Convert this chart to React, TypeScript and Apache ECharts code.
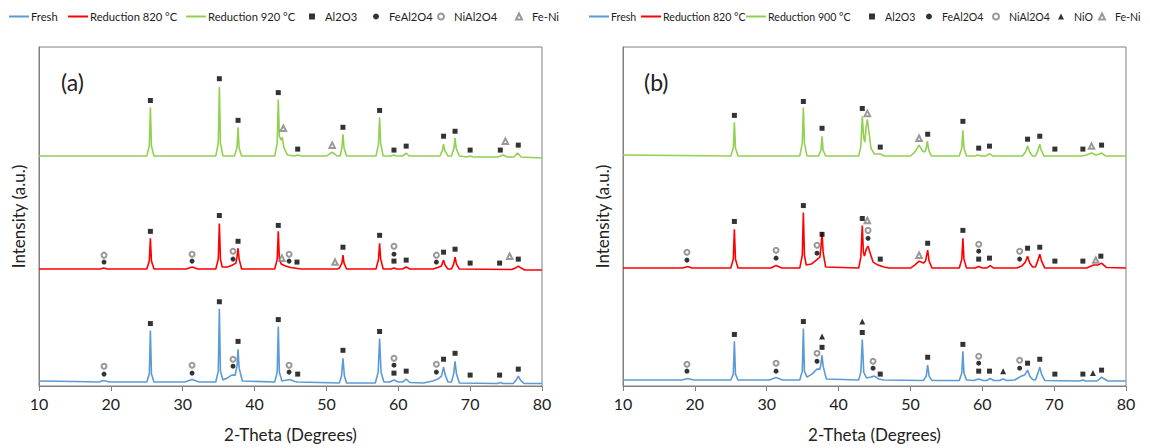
import React, { useEffect, useRef } from "react";
import * as echarts from "echarts";

const FONT = "Lato, 'Liberation Sans', sans-serif";
const AXIS_GREY = "#808080";
const TEXT_COLOR = "#222222";
const BLUE = "#5b9bd5";
const RED = "#ff0000";
const GREEN = "#92d050";

// ---- Panel (a): diffraction patterns, [2θ, intensity (a.u., stacked)] ----
const freshA = [
  [10, 5], [15, 4.5], [18.3, 4], [19.0, 5.5], [19.8, 4],
  [25.0, 4], [25.35, 12], [25.5, 56], [25.65, 12], [26.0, 4],
  [30.3, 4], [31.3, 6.5], [32.3, 4],
  [34.6, 4], [34.95, 15], [35.1, 78], [35.25, 15], [35.6, 6], [36.2, 8], [36.8, 11], [37.3, 11], [37.55, 20], [37.7, 37], [37.85, 18], [38.3, 5],
  [42.8, 4], [43.15, 14], [43.3, 60], [43.45, 14], [43.8, 5], [44.9, 6.5], [45.6, 4.5], [46.0, 4],
  [51.8, 3], [52.1, 10], [52.3, 28], [52.5, 10], [52.8, 3],
  [56.8, 3], [57.2, 14], [57.4, 48], [57.6, 14], [58.0, 4], [58.8, 4], [59.4, 6], [60.0, 4], [60.6, 4], [61.1, 7], [61.6, 3.5],
  [63.5, 3], [64.8, 5], [65.5, 7], [66.0, 10], [66.15, 14], [66.3, 19], [66.5, 12], [66.9, 4],
  [67.4, 4], [67.7, 12], [67.9, 25], [68.1, 12], [68.5, 3],
  [73.8, 2.5], [74.2, 3.5], [74.6, 2.5],
  [76.0, 2.5], [76.4, 6], [76.7, 10], [77.0, 6], [77.5, 2.5], [80, 2.5],
];

const red820A = [
  [10, 118], [18.5, 118], [19.0, 119], [19.5, 118],
  [25.0, 118], [25.35, 126], [25.5, 149], [25.65, 126], [26.0, 118],
  [30.5, 118], [31.3, 120], [32.1, 118],
  [34.6, 118], [34.95, 128], [35.1, 164], [35.25, 128], [35.5, 120], [36.2, 120], [36.8, 121.5], [37.4, 124], [37.55, 130], [37.7, 139], [37.85, 128], [38.2, 118],
  [42.8, 118], [43.15, 128], [43.3, 156], [43.45, 128], [43.7, 123], [44.3, 121], [45.0, 119.5], [46.0, 118.5], [46.5, 118],
  [51.5, 118], [51.8, 119], [52.15, 124], [52.3, 132], [52.45, 124], [52.8, 118],
  [56.9, 118], [57.25, 128], [57.4, 144], [57.55, 128], [57.9, 118],
  [59.0, 118], [59.4, 119], [59.8, 118],
  [60.6, 118], [61.1, 120], [61.6, 118],
  [64.8, 118], [65.5, 119.5], [66.0, 121], [66.15, 124], [66.3, 127], [66.5, 122], [66.9, 118],
  [67.4, 118], [67.7, 123], [67.9, 130], [68.1, 123], [68.5, 118],
  [75.8, 117.5], [76.3, 119], [76.7, 121], [77.1, 119], [77.6, 117], [80, 117],
];

const green920A = [
  [10, 232], [25.0, 232], [25.35, 242], [25.5, 281], [25.65, 242], [26.0, 232],
  [34.6, 232], [34.95, 245], [35.1, 302], [35.25, 245], [35.6, 232],
  [37.2, 232], [37.55, 240], [37.7, 261], [37.85, 240], [38.2, 232],
  [42.8, 232], [43.15, 245], [43.3, 289], [43.45, 252], [43.7, 248], [43.85, 251], [44.1, 240], [44.6, 233],
  [45.5, 232], [46.0, 233], [46.5, 232],
  [50.0, 232], [50.8, 236], [51.5, 232],
  [51.9, 232], [52.15, 240], [52.3, 254], [52.45, 240], [52.8, 232],
  [56.9, 232], [57.25, 244], [57.4, 271], [57.55, 244], [57.9, 232],
  [59.0, 232], [59.4, 233], [59.8, 232],
  [60.6, 232], [61.1, 235], [61.5, 232],
  [65.8, 232], [66.15, 238], [66.3, 244], [66.45, 238], [66.9, 232],
  [67.4, 232], [67.75, 240], [67.9, 250], [68.05, 240], [68.5, 232],
  [69.6, 231], [70.0, 232], [70.4, 231],
  [73.8, 231], [74.6, 233], [75.2, 231],
  [76.1, 231], [76.6, 235], [77.1, 231], [80, 230],
];

// Phase markers, panel (a)
const al2o3A = [
  [25.5, 288], [35.1, 310], [37.7, 268], [43.3, 296], [46.0, 239], [52.3, 261], [57.4, 278],
  [59.4, 238], [61.1, 242], [66.3, 252], [67.9, 257], [70.0, 238], [74.2, 238], [76.7, 243],
  [25.5, 156], [35.1, 172], [37.7, 146], [43.3, 162], [45.9, 125], [52.3, 140], [57.4, 152],
  [59.4, 126], [61.1, 127], [66.3, 135], [67.9, 138], [70.0, 124], [74.1, 124], [76.7, 128],
  [25.5, 63], [35.1, 85], [37.7, 45], [43.3, 67], [46.0, 12], [52.3, 36], [57.4, 55],
  [59.4, 13], [61.1, 15], [66.3, 27], [67.9, 33], [70.0, 11], [74.1, 11], [76.7, 17],
];
const feAl2o4A = [
  [19.05, 125], [31.3, 126], [37.0, 128], [44.8, 126], [59.4, 133], [65.3, 125],
  [19.05, 12], [31.3, 13], [37.0, 20], [44.8, 14], [59.4, 21], [65.3, 14],
];
const niAl2o4A = [
  [19.05, 132], [31.3, 133], [37.0, 136], [44.8, 133], [59.4, 141], [65.3, 132],
  [19.05, 20], [31.3, 21], [37.0, 27], [44.8, 21], [59.4, 28], [65.3, 22],
];
const feNiA = [
  [44.0, 260], [50.8, 243], [74.9, 247],
  [43.8, 129], [51.2, 125], [75.5, 131],
];

// ---- Panel (b) ----
const freshB = [
  [10, 6], [18.2, 6], [19.0, 7.5], [19.8, 6],
  [25.0, 6], [25.35, 12], [25.5, 45], [25.65, 12], [26.0, 6],
  [30.4, 6], [31.3, 8.5], [32.2, 6],
  [34.6, 6], [34.95, 15], [35.1, 58], [35.25, 15], [35.6, 9], [36.3, 12], [37.0, 17], [37.4, 17], [37.55, 22], [37.7, 31], [37.85, 20], [38.3, 7],
  [42.8, 6], [43.1, 14], [43.3, 47], [43.5, 14], [43.9, 8], [44.5, 9], [45.0, 10], [45.6, 7], [46.3, 6],
  [51.8, 5.5], [52.2, 10], [52.4, 21], [52.6, 10], [53.0, 5.5],
  [56.8, 5.5], [57.15, 13], [57.3, 35], [57.45, 13], [57.8, 6],
  [58.8, 5.5], [59.5, 7], [60.1, 5.5], [60.6, 5.5], [61.1, 7.5], [61.6, 5.5],
  [62.4, 5.5], [62.9, 7], [63.4, 5.5],
  [64.5, 6], [65.3, 9.5], [65.9, 11], [66.3, 16], [66.6, 10], [67.0, 6.5],
  [67.4, 6], [67.75, 13], [68.0, 19], [68.25, 12], [68.7, 5.5],
  [73.6, 5], [74.0, 6], [74.4, 5],
  [75.9, 5], [76.3, 7], [76.6, 9], [77.0, 7], [77.5, 5], [80, 5],
];

const red820B = [
  [10, 119], [18.3, 119], [19.0, 120.5], [19.6, 119],
  [25.0, 119], [25.35, 128], [25.5, 158], [25.65, 128], [26.0, 119],
  [30.6, 119], [31.3, 121.5], [32.1, 119],
  [34.6, 119], [34.95, 132], [35.1, 175], [35.25, 132], [35.5, 122], [36.2, 123], [36.9, 127], [37.4, 130], [37.55, 140], [37.7, 155], [37.85, 135], [38.2, 120],
  [42.8, 119], [43.1, 130], [43.3, 162], [43.45, 135], [43.6, 131], [43.85, 138], [44.1, 141], [44.4, 134], [44.8, 125], [45.5, 122], [46.3, 120], [47.0, 119],
  [50.0, 119], [50.6, 122], [51.2, 126], [51.8, 124], [52.1, 126], [52.4, 137], [52.6, 126], [53.0, 119],
  [56.8, 119], [57.15, 128], [57.3, 149], [57.45, 128], [57.8, 119],
  [59.0, 119], [59.5, 120.5], [60.0, 119],
  [60.6, 119], [61.1, 121.5], [61.6, 119],
  [64.8, 119], [65.5, 121], [66.0, 125], [66.3, 131], [66.6, 124], [67.0, 120],
  [67.4, 120], [67.75, 127], [68.0, 133], [68.25, 126], [68.7, 119],
  [74.5, 119], [75.5, 122], [76.1, 122], [76.6, 124], [77.3, 119.5], [80, 119],
];

const green900B = [
  [10, 233], [25.0, 232], [25.35, 240], [25.5, 266], [25.65, 240], [26.0, 232],
  [34.6, 232], [34.95, 245], [35.1, 281], [35.25, 245], [35.6, 232],
  [37.2, 232], [37.55, 238], [37.7, 252], [37.85, 238], [38.2, 232],
  [42.8, 232], [43.1, 242], [43.3, 272], [43.5, 250], [43.65, 246], [43.85, 262], [44.0, 269], [44.2, 258], [44.5, 240], [45.0, 234], [45.8, 234], [46.4, 232],
  [50.0, 232], [50.6, 236], [51.2, 243], [51.7, 237], [52.0, 236], [52.2, 240], [52.35, 247], [52.55, 238], [52.9, 232],
  [56.8, 232], [57.15, 240], [57.3, 258], [57.45, 240], [57.8, 232],
  [59.0, 232], [59.4, 233], [59.8, 232],
  [60.5, 232], [61.0, 234.5], [61.5, 232],
  [65.6, 232], [66.0, 236], [66.3, 242], [66.6, 236], [67.0, 232],
  [67.4, 232], [67.75, 238], [68.0, 244], [68.2, 238], [68.6, 232],
  [73.8, 232], [74.5, 233], [75.2, 235], [75.8, 233], [76.3, 234], [76.6, 235], [77.2, 232], [80, 232],
];

// Phase markers, panel (b)
const al2o3B = [
  [25.5, 273], [35.1, 287], [37.7, 260], [43.3, 280], [45.8, 241], [52.4, 254], [57.3, 267],
  [59.5, 240], [61.0, 242], [66.3, 249], [68.0, 252], [70.1, 239], [74.0, 239], [76.6, 243],
  [25.5, 166], [35.1, 182], [37.7, 153], [43.3, 169], [45.8, 128], [52.4, 144], [57.3, 157],
  [59.5, 128], [61.0, 129], [66.3, 139], [68.0, 140], [70.1, 126], [74.0, 126], [76.5, 131],
  [25.5, 52], [35.1, 65], [37.7, 39], [43.3, 54], [45.8, 12], [52.4, 29], [57.3, 42],
  [59.5, 15], [61.0, 15], [66.3, 23], [68.0, 27], [70.1, 12], [74.0, 12], [76.6, 16],
];
const feAl2o4B = [
  [18.9, 127], [31.3, 129], [37.0, 134], [44.1, 149], [59.5, 136], [65.2, 128],
  [18.9, 15], [31.3, 15], [37.0, 25], [44.8, 18], [59.5, 23], [65.2, 18],
];
const niAl2o4B = [
  [18.9, 135], [31.3, 137], [37.0, 142], [44.1, 157], [59.5, 143], [65.2, 136],
  [18.9, 22], [31.3, 23], [37.0, 33], [44.8, 25], [59.5, 30], [65.2, 26],
];
const niOB = [[37.7, 50], [43.3, 65], [62.9, 15], [75.4, 13]];
const feNiB = [
  [44.0, 275], [51.2, 250], [75.2, 242],
  [44.0, 167], [51.2, 132], [75.8, 127],
];

const X_MIN = 10;
const X_MAX = 80;
const X_STEP = 10;
const Y_MAX = 342;

// Marker appearance for each phase
const PHASES: Record<string, { symbol: string; size: number; color: string }> = {
  Al2O3: { symbol: "rect", size: 5, color: "#000000" },
  FeAl2O4: { symbol: "circle", size: 5, color: "#000000" },
  NiAl2O4: { symbol: "emptyCircle", size: 5, color: "#808080" },
  NiO: { symbol: "triangle", size: 6, color: "#000000" },
  "Fe-Ni": { symbol: "emptyTriangle", size: 5.5, color: "#808080" },
};

function lineSeries(name: string, data: number[][], color: string, idx: number) {
  return {
    type: "line",
    name,
    data,
    xAxisIndex: idx,
    yAxisIndex: idx,
    symbol: "none",
    smooth: false,
    lineStyle: { color, width: 1.6 },
    itemStyle: { color },
    z: 2,
  };
}

function markerSeries(name: string, data: number[][], idx: number) {
  const p = PHASES[name];
  return {
    type: "scatter",
    name,
    data,
    xAxisIndex: idx,
    yAxisIndex: idx,
    symbol: p.symbol,
    symbolSize: p.size,
    itemStyle: { color: p.color, borderWidth: p.symbol.startsWith("empty") ? 0.8 : 0 },
    z: 3,
  };
}

function xAxis(idx: number) {
  return {
    type: "value",
    gridIndex: idx,
    min: X_MIN,
    max: X_MAX,
    interval: X_STEP,
    axisLine: { lineStyle: { color: AXIS_GREY, width: 1 } },
    axisTick: { show: true, inside: false, length: 5, lineStyle: { color: AXIS_GREY } },
    axisLabel: { fontFamily: FONT, fontSize: 16, color: TEXT_COLOR, margin: 9 },
    splitLine: { show: false },
    name: "2-Theta (Degrees)",
    nameLocation: "middle",
    nameGap: 40,
    nameTextStyle: { fontFamily: FONT, fontSize: 17, color: TEXT_COLOR },
  };
}

function yAxis(idx: number) {
  return {
    type: "value",
    gridIndex: idx,
    min: 0,
    max: Y_MAX,
    axisLine: { show: true, lineStyle: { color: AXIS_GREY, width: 1 } },
    axisTick: { show: false },
    axisLabel: { show: false },
    splitLine: { show: false },
    name: "Intensity (a.u.)",
    nameLocation: "middle",
    nameGap: 12,
    nameRotate: 90,
    nameTextStyle: { fontFamily: FONT, fontSize: 17, color: TEXT_COLOR },
  };
}

// One legend block per entry so each sits where it belongs in the header row
function legendEntry(name: string, left: number, isLine: boolean, fontSize: number) {
  return {
    data: [isLine ? { name, icon: "rect" } : { name }],
    left,
    top: 11,
    orient: "horizontal",
    padding: 0,
    itemWidth: isLine ? 20 : 6,
    itemHeight: isLine ? 2 : 6,
    selectedMode: false,
    textStyle: {
      fontFamily: FONT,
      fontSize,
      color: TEXT_COLOR,
      padding: isLine ? [0, 0, 0, -3] : [0, 0, 0, 5],
    },
  };
}

const legends = [
  legendEntry("Fresh", 9, true, 11.2),
  legendEntry("Reduction 820 °C", 68, true, 11.2),
  legendEntry("Reduction 920 °C", 186, true, 11.2),
  legendEntry("Al2O3", 309, false, 11.2),
  legendEntry("FeAl2O4", 373, false, 11.2),
  legendEntry("NiAl2O4", 437, false, 11.2),
  legendEntry("Fe-Ni", 515, false, 11.2),
  legendEntry("Fresh", 589, true, 10.6),
  legendEntry("Reduction 820 °C", 641, true, 10.6),
  legendEntry("Reduction 900 °C", 746, true, 10.6),
  legendEntry("Al2O3", 869, false, 10.6),
  legendEntry("FeAl2O4", 926, false, 10.6),
  legendEntry("NiAl2O4", 992, false, 10.6),
  legendEntry("NiO", 1058, false, 10.6),
  legendEntry("Fe-Ni", 1098, false, 10.6),
];

const option = {
  animation: false,
  backgroundColor: "#ffffff",
  textStyle: { fontFamily: FONT },
  title: [
    { text: "(a)", left: 61, top: 70, padding: 0, textStyle: { fontFamily: FONT, fontSize: 23, fontWeight: "normal", color: TEXT_COLOR } },
    { text: "(b)", left: 644, top: 70, padding: 0, textStyle: { fontFamily: FONT, fontSize: 23, fontWeight: "normal", color: TEXT_COLOR } },
  ],
  legend: legends,
  grid: [
    { left: 39, top: 47, width: 503, height: 342, show: true, borderColor: AXIS_GREY, borderWidth: 1, backgroundColor: "transparent" },
    { left: 623, top: 47, width: 503, height: 342, show: true, borderColor: AXIS_GREY, borderWidth: 1, backgroundColor: "transparent" },
  ],
  xAxis: [xAxis(0), xAxis(1)],
  yAxis: [yAxis(0), yAxis(1)],
  series: [
    lineSeries("Fresh", freshA, BLUE, 0),
    lineSeries("Reduction 820 °C", red820A, RED, 0),
    lineSeries("Reduction 920 °C", green920A, GREEN, 0),
    markerSeries("Al2O3", al2o3A, 0),
    markerSeries("FeAl2O4", feAl2o4A, 0),
    markerSeries("NiAl2O4", niAl2o4A, 0),
    markerSeries("Fe-Ni", feNiA, 0),
    lineSeries("Fresh", freshB, BLUE, 1),
    lineSeries("Reduction 820 °C", red820B, RED, 1),
    lineSeries("Reduction 900 °C", green900B, GREEN, 1),
    markerSeries("Al2O3", al2o3B, 1),
    markerSeries("FeAl2O4", feAl2o4B, 1),
    markerSeries("NiAl2O4", niAl2o4B, 1),
    markerSeries("NiO", niOB, 1),
    markerSeries("Fe-Ni", feNiB, 1),
  ],
};

export default function App() {
  const ref = useRef<HTMLDivElement>(null);
  useEffect(() => {
    document.body.style.margin = "0";
    const chart = echarts.init(ref.current as HTMLDivElement, null, { renderer: "svg" });
    chart.setOption(option as any);
    return () => chart.dispose();
  }, []);
  return <div ref={ref} style={{ width: 1150, height: 448 }} />;
}
